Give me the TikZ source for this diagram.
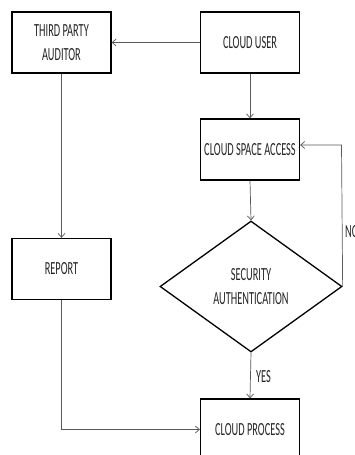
\documentclass[tikz,border=0pt]{standalone}
\usepackage{fontspec}
\setmainfont{Carlito}[FakeStretch=0.56]
\usetikzlibrary{shapes.geometric,arrows.meta}
\begin{document}
\begin{tikzpicture}[x=1pt,y=-1pt,
  txt/.style={font=\fontsize{18.5}{24.5}\selectfont,text=black!85},
  box/.style={txt,draw=black,line width=1.3pt,minimum width=99pt,minimum height=61pt,inner sep=0pt,align=center},
  dia/.style={txt,draw=black,line width=1.3pt,diamond,minimum width=182pt,minimum height=131pt,inner sep=0pt,align=center},
  conn/.style={draw=black!65,line width=0.7pt,-{Straight Barb[length=4pt,width=7pt]}},
  lab/.style={txt,inner sep=0pt}]
\useasboundingbox (0,0) rectangle (354,455);
\clip (0,0) rectangle (354,455);
\fill[white] (0,0) rectangle (354,455);
\node[box] (tpa) at (61.5,42.5) {THIRD PARTY\\AUDITOR};
\node[box] (user) at (250,42.5) {CLOUD USER};
\node[box] (csa) at (250,149.5) {CLOUD SPACE ACCESS};
\node[dia] (sec) at (251,286.5) {SECURITY\\AUTHENTICATION};
\node[box] (rep) at (61.5,269) {REPORT};
\node[box] (proc) at (250,429.5) {CLOUD PROCESS};
\coordinate (nocorner) at (341.5,145);
\draw[conn] (user.west) -- (tpa.east);
\draw[conn] (user.south) -- (csa.north);
\draw[conn] (csa.south) -- (sec.north);
\draw[conn] (tpa.south) -- (rep.north);
\draw[conn] (sec.east) -- (nocorner) -- (csa.east |- nocorner);
\draw[conn] (sec.south) -- (proc.north);
\draw[conn] (rep.south) |- (proc.west);
\node[lab,anchor=west] (no) at (345,232) {NO};
\node[lab,anchor=west] (yes) at (256,377) {YES};
\end{tikzpicture}
\end{document}
